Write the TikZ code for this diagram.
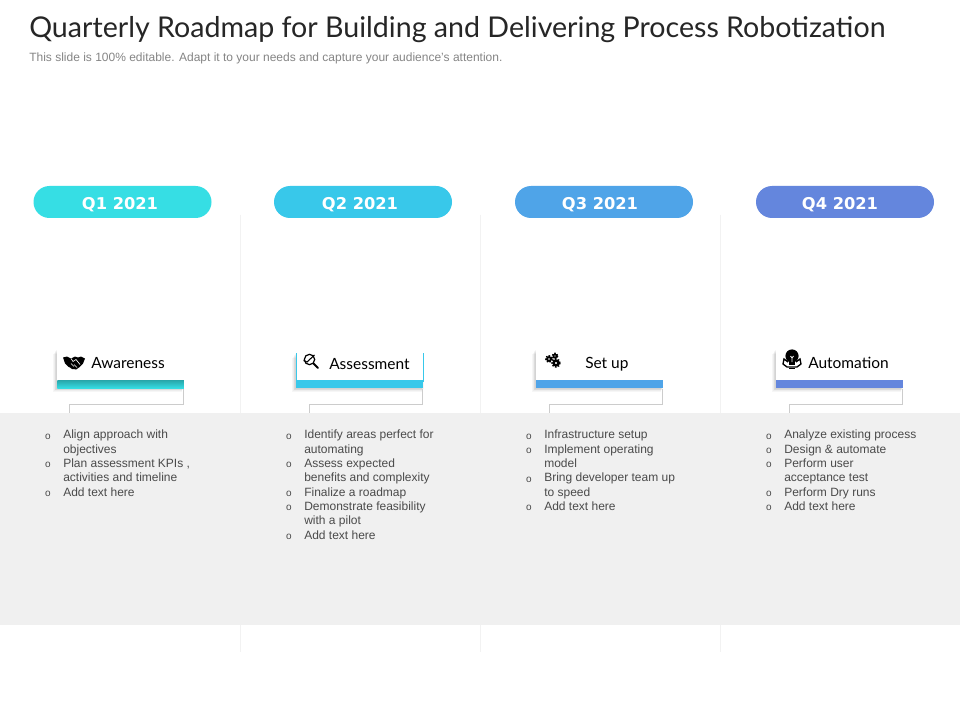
\documentclass[tikz,border=0pt]{standalone}
\usepackage{fontspec}
\setmainfont{Liberation Sans}
\newfontfamily\titlefont{Lato}
\newfontfamily\pillfont{DejaVu Sans}
\usetikzlibrary{calc}
\definecolor{cQa}{HTML}{36DEE4}
\definecolor{cQb}{HTML}{38C8EA}
\definecolor{cQc}{HTML}{4FA4E8}
\definecolor{cQd}{HTML}{6486DD}
\definecolor{band}{HTML}{F0F0F0}
\definecolor{inkbody}{HTML}{4A4A4A}
\tikzset{
  x=0.75pt,y=-0.75pt,
  pill/.style={rounded corners=12pt,minimum width=133.5pt,minimum height=24pt,inner sep=0pt},
  pilltext/.style={text=white,inner sep=0pt,font=\pillfont\bfseries\fontsize{12.2}{14}\selectfont},
  card/.style={fill=white,minimum width=95pt,minimum height=24pt,inner sep=0pt,draw=none},
  cardbar/.style={minimum width=95pt,minimum height=6pt,inner sep=0pt,draw=none},
  cardlabel/.style={font=\titlefont\fontsize{11.6}{13}\selectfont,text=black,inner sep=0pt},
  listtext/.style={anchor=north west,align=left,inner sep=0pt,text=inkbody,
    font=\fontsize{9}{10.72}\selectfont},
  listmark/.style={anchor=north,align=center,inner sep=0pt,text=inkbody,
    font=\fontsize{7.5}{10.72}\selectfont},
  divider/.style={draw=black!5,line width=.6pt},
  elbow/.style={draw=black!20,line width=.6pt},
  icon/.style={fill=black,draw=none},
}
\newcommand{\softshadow}[4]{%
  \foreach \i in {5,4,3,2,1}{%
    \fill[black,opacity=.035] (#1-\i*0.8,#2+\i) rectangle (#3-\i*0.4,#4+\i*0.8);}%
}
\begin{document}
\begin{tikzpicture}
\useasboundingbox (0,0) rectangle (960,720);
\fill[white] (0,0) rectangle (960,720);

% title
\node[anchor=base west,inner sep=0pt,text=black!85,font=\titlefont\fontsize{21.45}{25}\selectfont] (title) at (29,38)
  {Quarterly Roadmap for Building and Delivering Process Robotization};
\node[anchor=base west,inner sep=0pt,text=black!48,font=\fontsize{9}{11}\selectfont] (subtitle) at (29,62)
  {This slide is 100\% editable. Adapt it to your needs and capture your audience's attention.};

% column dividers
\foreach \x in {240,480,720}{
  \draw[divider] (\x,215) -- (\x,413);
  \draw[divider] (\x,625) -- (\x,652);
}

% pills
\foreach \n/\cx/\tx/\col/\lab in {a/122.5/120/cQa/Q1 2021,b/363/360/cQb/Q2 2021,c/604/600/cQc/Q3 2021,d/845/840/cQd/Q4 2021}{
  \node[pill,fill=\col] (pill\n) at (\cx,202) {};
  \node[pilltext] (qlab\n) at (\tx,204.5) {\lab};
}

% cards
\softshadow{57}{349}{184}{388}
\node[card,anchor=north west] (carda) at (57,349) {};
\node[cardbar,anchor=north west,top color=cQa!75!black,bottom color=cQa] (bara) at (57,380) {};
\node[cardlabel,anchor=base west] (laba) at (91,368) {Awareness};

\softshadow{296}{353}{424}{388}
\node[card,anchor=north west,minimum height=21pt] (cardb) at (296,353) {};
\draw[cQb,line width=.6pt] (cardb.north west) -- (cardb.south west) (cardb.north east) -- (cardb.south east);
\node[cardbar,anchor=north west,fill=cQb] (barb) at (296,380) {};
\node[cardlabel,anchor=base west] (labb) at (329,369) {Assessment};

\softshadow{536}{349}{663}{388}
\node[card,anchor=north west] (cardc) at (536,349) {};
\node[cardbar,anchor=north west,fill=cQc] (barc) at (536,380) {};
\node[cardlabel,anchor=base west] (labc) at (585,368) {Set up};

\softshadow{776}{349}{903}{388}
\node[card,anchor=north west] (cardd) at (776,349) {};
\node[cardbar,anchor=north west,fill=cQd] (bard) at (776,380) {};
\node[cardlabel,anchor=base west] (labd) at (808,368) {Automation};

% icons
% handshake
\begin{scope}[shift={(74,362.5)}]
  \fill[icon] (-11,-5) -- (-7,-6) -- (-3,-4) -- (1,-6) -- (4,-5) -- (7,-6) -- (11,-4) -- (9,1)
     -- (5,5) -- (2,7) -- (0,6.5) -- (-2,6.5) -- (-4,5) -- (-6,4) -- (-9,1) -- cycle;
  \draw[white,line width=.5pt] (-3,-4) -- (-1,-1) -- (2,-3) -- (6,2) (0,2) -- (3,5) (-3,1) -- (0,4);
\end{scope}
% magnifier with check
\begin{scope}[shift={(311,361)}]
  \draw[black,line width=.9pt] (-1.5,-1.5) circle (5.2);
  \draw[black,line width=1.4pt,line cap=round] (2.6,2.6) -- (7,7);
  \draw[black,line width=.8pt] (-7.5,-.5) -- (-4,1) -- (3.5,-6);
\end{scope}
% gears
\foreach \gx/\gy/\gr in {556/363/3.2,549/359/2.4,555/356/1.9}{
  \draw[black,line width=1.2pt,dash pattern=on 1.1pt off 1pt] (\gx,\gy) circle (\gr+0.7);
  \fill[black,even odd rule] (\gx,\gy) circle (\gr+0.5) (\gx,\gy) circle (\gr*0.45);
}
% robot bulb
\begin{scope}[shift={(792,359)}]
  \fill[icon] (0,-3) circle (6.6);
  \fill[icon] (-3,2) rectangle (3,6);
  \draw[black,line width=1pt] (-4,3) -- (-8,0) -- (-9,5) -- (-5,8) -- (5,8) -- (9,5) -- (8,0) -- (4,3);
  \draw[white,line width=.6pt] (-1.5,-3) -- (0,-1) -- (1.5,-3) (0,-1) -- (0,3);
  \draw[black,line width=1pt] (-3,9.5) -- (3,9.5);
\end{scope}

% band
\fill[band] (0,413) rectangle (960,625);

% connectors
\foreach \n/\l in {a/69,b/309.5,c/549.5,d/789.5}{
  \coordinate (end\n) at (\l,413);
  \draw[elbow] (bar\n.south east) ++(-1,0) |- ($(end\n)+(0,-9)$) -- (end\n);
}

% lists
\node[listtext] (ta) at (63,430) {Align approach with\\objectives\\Plan assessment KPIs ,\\activities and timeline\\Add text here};
\node[listmark] (ma) at (48,433.5) {o\\\mbox{}\\o\\\mbox{}\\o};

\node[listtext] (tb) at (304,430) {Identify areas perfect for\\automating\\Assess expected\\benefits and complexity\\Finalize a roadmap\\Demonstrate feasibility\\with a pilot\\Add text here};
\node[listmark] (mb) at (289,433.5) {o\\\mbox{}\\o\\\mbox{}\\o\\o\\\mbox{}\\o};

\node[listtext] (tc) at (544,430) {Infrastructure setup\\Implement operating\\model\\Bring developer team up\\to speed\\Add text here};
\node[listmark] (mc) at (529,433.5) {o\\o\\\mbox{}\\o\\\mbox{}\\o};

\node[listtext] (td) at (784,430) {Analyze  existing process\\Design \& automate\\Perform user\\acceptance test\\Perform Dry runs\\Add text here};
\node[listmark] (md) at (769,433.5) {o\\o\\o\\\mbox{}\\o\\o};
\end{tikzpicture}
\end{document}
